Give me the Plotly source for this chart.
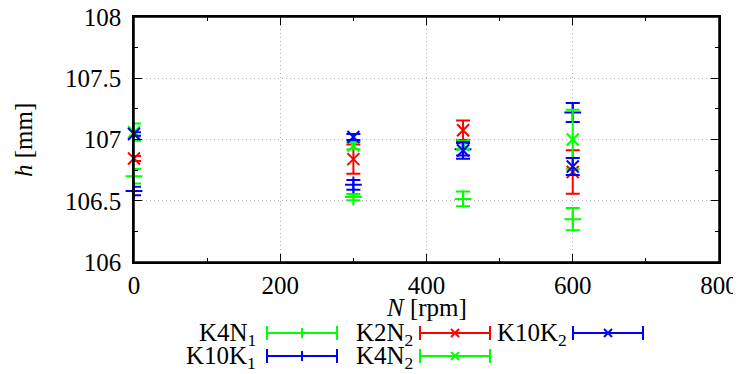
import plotly.graph_objects as go

# ---- data ----
N = [0, 300, 450, 600]
K4N1_h = [106.70, 106.53, 106.515, 106.35]
K4N1_err = [0.06, 0.025, 0.06, 0.09]
K10K1_h = [106.58, 106.63, 106.92, 107.22]
K10K1_err = [0.035, 0.04, 0.05, 0.077]
K2N2_h = [106.845, 106.84, 107.075, 106.735]
K2N2_err = [0.02, 0.12, 0.08, 0.178]
K4N2_h = [107.06, 106.95, 106.955, 107.0]
K4N2_err = [0.07, 0.03, 0.03, 0.243]
K10K2_h = [107.045, 107.02, 106.91, 106.78]
K10K2_err = [0.015, 0.025, 0.068, 0.07]

x_ticks = [0, 200, 400, 600, 800]
y_ticks = [106, 106.5, 107, 107.5, 108]
y_tick_labels = ["106", "106.5", "107", "107.5", "108"]

GREEN = "#00ff00"
RED = "#ff0000"
BLUE = "#0000ff"
FONT = "Liberation Serif"
FS = 25

series = [
    ("K4N<sub>1</sub>", K4N1_h, K4N1_err, GREEN, "cross-thin", "+"),
    ("K10K<sub>1</sub>", K10K1_h, K10K1_err, BLUE, "cross-thin", "+"),
    ("K2N<sub>2</sub>", K2N2_h, K2N2_err, RED, "x-thin", "x"),
    ("K4N<sub>2</sub>", K4N2_h, K4N2_err, GREEN, "x-thin", "x"),
    ("K10K<sub>2</sub>", K10K2_h, K10K2_err, BLUE, "x-thin", "x"),
]

OFF = 8  # page body margin
W, H = 741 - OFF, 374 - OFF
# plot area in screen pixels: x 134..719, y 17..262
ML = 134 - OFF
MT = 17 - OFF
MR = W - (719 - OFF)
MB = H - (262 - OFF)
PW, PH = W - ML - MR, H - MT - MB


def px(sx):
    return (sx - OFF - ML) / PW


def py(sy):
    return (H - MB - (sy - OFF)) / PH


fig = go.Figure()
for name, h, err, col, sym, _ in series:
    fig.add_trace(go.Scatter(
        x=N, y=h, mode="markers", name=name, showlegend=False,
        cliponaxis=False,
        marker=dict(symbol=sym, size=12, color=col, line=dict(color=col, width=2)),
        error_y=dict(type="data", array=err, color=col, thickness=2, width=7),
    ))

# ---- gnuplot-style key (text left of sample) ----
key_slots = [(258, 267, 337, 333), (258, 267, 337, 356),
             (415, 420, 490, 333), (415, 420, 490, 356),
             (569, 573, 643, 333)]
shapes = [dict(type="rect", xref="paper", yref="paper", x0=0, x1=1, y0=0, y1=1,
               line=dict(color="black", width=1.5), layer="above")]
annotations = []
for (name, h, err, col, sym, kind), (tx, x1, x2, yy) in zip(series, key_slots):
    annotations.append(dict(
        x=px(tx), y=py(yy + 1), xref="paper", yref="paper", text=name,
        showarrow=False, xanchor="right", yanchor="middle",
        font=dict(family=FONT, size=FS, color="black")))
    ln = dict(color=col, width=2)
    shapes.append(dict(type="line", xref="paper", yref="paper",
                       x0=px(x1), x1=px(x2), y0=py(yy), y1=py(yy), line=ln))
    for xc in (x1, x2):
        shapes.append(dict(type="line", xref="paper", yref="paper",
                           x0=px(xc), x1=px(xc), y0=py(yy - 7), y1=py(yy + 7), line=ln))
    xm = (x1 + x2) / 2
    if kind == "+":
        shapes.append(dict(type="line", xref="paper", yref="paper",
                           x0=px(xm), x1=px(xm), y0=py(yy - 5), y1=py(yy + 5), line=ln))
    else:
        shapes.append(dict(type="line", xref="paper", yref="paper",
                           x0=px(xm - 4), x1=px(xm + 4), y0=py(yy - 4), y1=py(yy + 4), line=ln))
        shapes.append(dict(type="line", xref="paper", yref="paper",
                           x0=px(xm - 4), x1=px(xm + 4), y0=py(yy + 4), y1=py(yy - 4), line=ln))

# axis titles
annotations.append(dict(x=px(426), y=py(307), xref="paper", yref="paper",
                        text="<i>N</i> [rpm]", showarrow=False,
                        xanchor="center", yanchor="middle",
                        font=dict(family=FONT, size=FS, color="black")))
annotations.append(dict(x=px(23), y=py(140), xref="paper", yref="paper",
                        text="<i>h</i> [mm]", showarrow=False, textangle=-90,
                        xanchor="center", yanchor="middle",
                        font=dict(family=FONT, size=FS, color="black")))

axis_common = dict(
    showline=True, linecolor="black", linewidth=1.5, mirror="allticks",
    ticks="inside", ticklen=8, tickwidth=1, tickcolor="black",
    showgrid=True, gridcolor="#b4b4b4", griddash="1px,3px", gridwidth=1,
    zeroline=False, automargin=False, ticklabeloverflow="allow",
    tickfont=dict(family=FONT, size=FS, color="black"),
)

fig.update_layout(
    width=W, height=H,
    margin=dict(l=ML, r=MR, t=MT, b=MB, autoexpand=False),
    plot_bgcolor="white", paper_bgcolor="white",
    font=dict(family=FONT, size=FS, color="black"),
    shapes=shapes, annotations=annotations,
    xaxis=dict(range=[0, 800], tickvals=x_ticks,
               minor=dict(ticks="inside", ticklen=4, dtick=100, tickcolor="black", showgrid=False),
               **axis_common),
    yaxis=dict(range=[106, 108], tickvals=y_ticks, ticktext=y_tick_labels,
               ticklabelstandoff=6,
               minor=dict(ticks="inside", ticklen=4, dtick=0.25, tickcolor="black", showgrid=False),
               **axis_common),
)

fig.write_html("out.html")
